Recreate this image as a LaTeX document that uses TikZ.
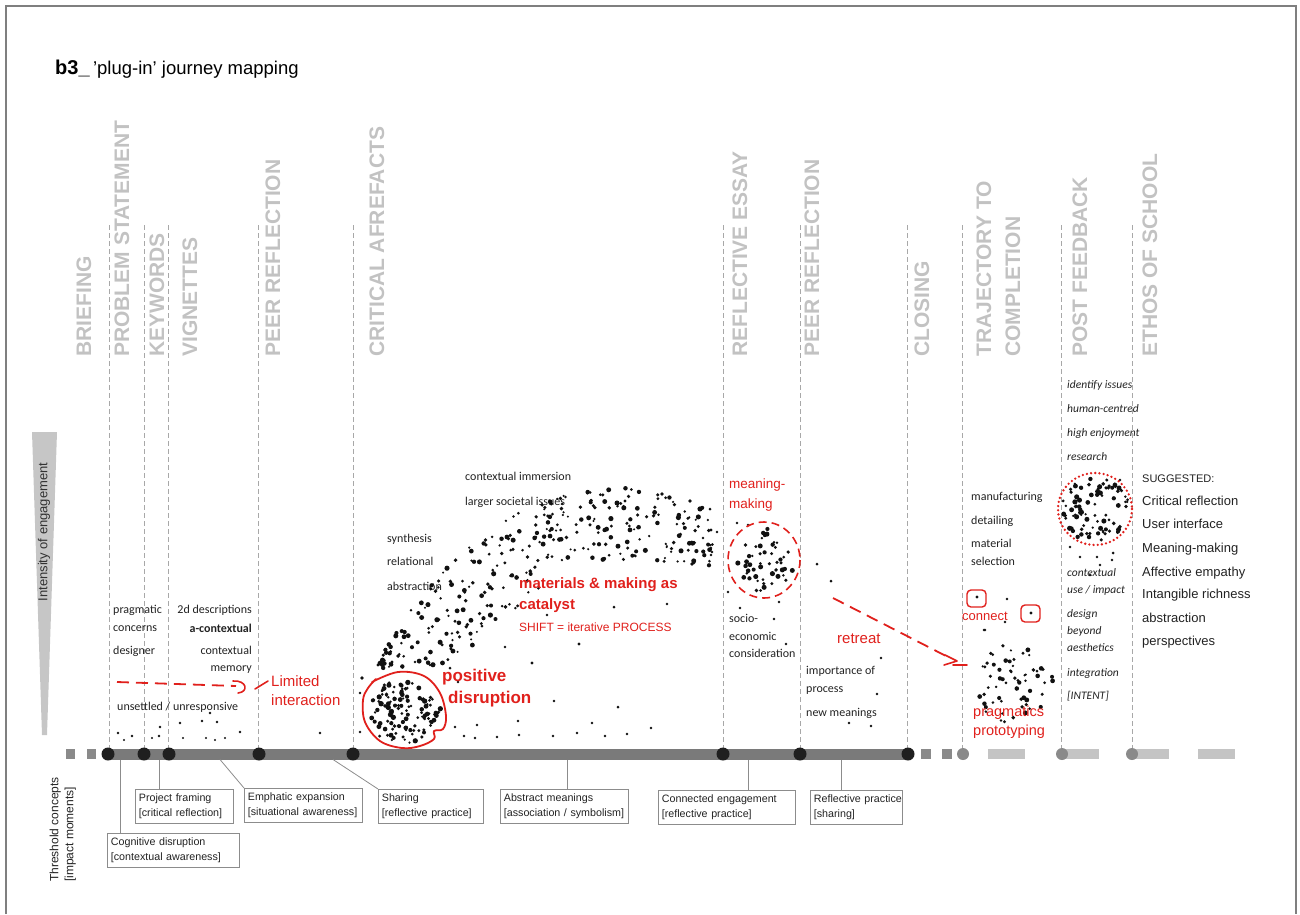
\documentclass[tikz,border=0pt]{standalone}
\usepackage{fontspec}
\setmainfont{Liberation Sans}
\newfontfamily\calib{Carlito}
\definecolor{hdrgray}{HTML}{C2C2C2}
\definecolor{linegray}{HTML}{A8A8A8}
\definecolor{axisgray}{HTML}{7A7A7A}
\definecolor{sqgray}{HTML}{8A8A8A}
\definecolor{lbargray}{HTML}{C4C4C4}
\definecolor{boxgray}{HTML}{8C8C8C}
\definecolor{anno}{HTML}{E0201C}
\definecolor{txt}{HTML}{222222}
\definecolor{wedgegray}{HTML}{C6C6C6}
\definecolor{framegray}{HTML}{7F7F7F}
\definecolor{dotc}{HTML}{111111}
\newcommand\dotcloud[6]{%
  \foreach \k in {1,...,#5}{%
    \pgfmathsetmacro\dAng{360*rnd}%
    \pgfmathsetmacro\dR{sqrt(rnd)}%
    \pgfmathsetmacro\dSz{1.2+#6*rnd}%
    \fill[dotc] ({#1+#3*\dR*cos(\dAng)},{#2+#4*\dR*sin(\dAng)}) circle (\dSz pt);
  }}
\tikzset{
  hdr/.style={rotate=90, anchor=west, inner sep=0pt, text=hdrgray, font=\bfseries\fontsize{21}{21}\selectfont},
  vline/.style={draw=linegray, dash pattern=on 5pt off 3pt, line width=0.8pt},
  lbl/.style={anchor=base west, inner sep=0pt, text=txt, font=\calib\fontsize{12}{12}\selectfont},
  lblr/.style={lbl, anchor=base east},
  ital/.style={lbl, font=\calib\itshape\fontsize{11.5}{11.5}\selectfont},
  sug/.style={anchor=base west, inner sep=0pt, text=txt, font=\fontsize{13}{13}\selectfont},
  redtxt/.style={anchor=base west, inner sep=0pt, text=anno},
  tbox/.style={draw=boxgray, line width=0.8pt, inner xsep=3.5pt, inner ysep=2pt, anchor=north west, align=left, text=txt, font=\fontsize{10.7}{15}\selectfont, minimum height=34pt},
  tconn/.style={draw=boxgray, line width=0.8pt},
  bdot/.style={circle, fill=black!88, inner sep=0pt, minimum size=13pt},
  gdot/.style={circle, fill=sqgray, inner sep=0pt, minimum size=12pt},
  sqr/.style={rectangle, fill=sqgray, inner sep=0pt, minimum size=9.5pt},
  lbar/.style={rectangle, fill=lbargray, inner sep=0pt, minimum width=37pt, minimum height=10pt, anchor=west},
  annoline/.style={draw=anno, line width=1.8pt, line cap=round, line join=round},
  annodash/.style={draw=anno, line width=1.8pt, dash pattern=on 12pt off 7pt},
}
\begin{document}
\begin{tikzpicture}[x=1pt, y=-1pt]
\useasboundingbox (0,0) rectangle (1300,914);
\pgfmathsetseed{11}
% frame
\draw[framegray, line width=1.6pt] (6,914) -- (6,6) -- (1296,6) -- (1296,914);
% title
\node[anchor=base west, inner sep=0pt, font=\bfseries\fontsize{20}{20}\selectfont] (ttl) at (55,74) {b3\_};
\node[anchor=base west, inner sep=0pt, font=\fontsize{18.5}{18.5}\selectfont] (ttl2) at ([xshift=3pt]ttl.base east) {'plug-in' journey mapping};
% headers
\node[hdr] (h1) at (84,357) {BRIEFING};
\node[hdr] (h2) at (122,357) {PROBLEM STATEMENT};
\node[hdr] (h3) at (157,357) {KEYWORDS};
\node[hdr] (h4) at (190,357) {VIGNETTES};
\node[hdr] (h5) at (273,357) {PEER REFLECTION};
\node[hdr] (h6) at (377,357) {CRITICAL AFREFACTS};
\node[hdr] (h7) at (740,357) {REFLECTIVE ESSAY};
\node[hdr] (h8) at (812,357) {PEER REFLECTION};
\node[hdr] (h9) at (922,357) {CLOSING};
\node[hdr] (h10) at (984,357) {TRAJECTORY TO};
\node[hdr] (h11) at (1013,357) {COMPLETION};
\node[hdr] (h12) at (1080,357) {POST FEEDBACK};
\node[hdr] (h13) at (1150,357) {ETHOS OF SCHOOL};
% wedge + intensity label
\fill[wedgegray] (32,432) -- (57,432) -- (47,735) -- (42,735) -- cycle;
\node[rotate=90, inner sep=0pt, text=black!80, font=\fontsize{13}{13}\selectfont] (ie) at (44,532) {Intensity of engagement};
% dashed column lines
\foreach \n/\xx in {1/109,2/144,3/168,4/258,5/353,6/723,7/800,8/907,9/962,10/1061,11/1132}{
  \coordinate (t\n) at (\xx,225);
  \coordinate (b\n) at (\xx,750);
  \draw[vline] (t\n) -- (b\n);
}
% axis
\coordinate (axL) at (108,754);
\coordinate (axR) at (908,754);
\draw[axisgray, line width=11pt] (axL) -- (axR);
\node[sqr] (sq1) at (70.5,754) {};
\node[sqr] (sq2) at (91.5,754) {};
\node[sqr] (sq3) at (926,754) {};
\node[sqr] (sq4) at (947,754) {};
\node[lbar] (lb1) at (988,754) {};
\node[lbar] (lb2) at (1062,754) {};
\node[lbar] (lb3) at (1132,754) {};
\node[lbar] (lb4) at (1198,754) {};
\foreach \n/\xx in {1/108,2/144,3/169,4/259,5/353,6/723,7/800,8/908}{
  \node[bdot] (d\n) at (\xx,754) {};
}
\node[gdot] (g1) at (963,754) {};
\node[gdot] (g2) at (1062,754) {};
\node[gdot] (g3) at (1132,754) {};
% threshold label
\node[rotate=90, anchor=north west, align=left, inner sep=0pt, text=txt, font=\fontsize{12}{15}\selectfont] (thr) at (49.5,882) {Threshold concepts\\\mbox{[impact moments]}};
% boxes
\node[tbox, text width=125pt] (cog) at (107,833) {\mbox{Cognitive disruption}\\\mbox{[contextual awareness]}};
\node[tbox, text width=91pt] (proj) at (135,789) {\mbox{Project framing}\\\mbox{[critical reflection]}};
\node[tbox, text width=111pt] (emph) at (244,788) {\mbox{Emphatic expansion}\\\mbox{[situational awareness]}};
\node[tbox, text width=98pt] (shar) at (378,789) {\mbox{Sharing}\\\mbox{[reflective practice]}};
\node[tbox, text width=121pt] (abst) at (500,789) {\mbox{Abstract meanings}\\\mbox{[association / symbolism]}};
\node[tbox, text width=130pt] (conn) at (658,790) {\mbox{Connected engagement}\\\mbox{[reflective practice]}};
\node[tbox, text width=85pt] (refl) at (810,790) {\mbox{Reflective practice}\\\mbox{[sharing]}};
\coordinate (c1) at (120,759.5);
\coordinate (c2) at (159,759.5);
\coordinate (c3) at (220,759.5);
\coordinate (c4) at (333,759.5);
\coordinate (c5) at (567,759.5);
\coordinate (c6) at (748,759.5);
\coordinate (c7) at (841,759.5);
\draw[tconn] (c1) -- (c1 |- cog.north);
\draw[tconn] (c2) -- (c2 |- proj.north);
\draw[tconn] (c3) -- (emph.north west);
\draw[tconn] (c4) -- (shar.north west);
\draw[tconn] (c5) -- (c5 |- abst.north);
\draw[tconn] (c6) -- (c6 |- conn.north);
\draw[tconn] (c7) -- (c7 |- refl.north);
% black labels
\node[lbl] (p1) at (113,613) {pragmatic};
\node[lbl] (p2) at (113,631) {concerns};
\node[lbl] (p3) at (113,654) {designer};
\node[lblr] (q1) at (252,613) {2d descriptions};
\node[lblr, font=\calib\bfseries\fontsize{12}{12}\selectfont] (q2) at (252,632) {a-contextual};
\node[lblr] (q3) at (252,654) {contextual};
\node[lblr] (q4) at (252,671) {memory};
\node[lbl] (un) at (117,710) {unsettled / unresponsive};
\node[lbl] (m1) at (465,480) {contextual immersion};
\node[lbl] (m2) at (465,505) {larger societal issues};
\node[lbl] (s1) at (387,542) {synthesis};
\node[lbl] (s2) at (387,565) {relational};
\node[lbl] (s3) at (387,590) {abstraction};
\node[lbl] (e1) at (729,622) {socio-};
\node[lbl] (e2) at (729,640) {economic};
\node[lbl] (e3) at (729,657) {consideration};
\node[lbl] (r1) at (806,674) {importance of};
\node[lbl] (r2) at (806,692) {process};
\node[lbl] (r3) at (806,716) {new meanings};
\node[lbl] (f1) at (971,500) {manufacturing};
\node[lbl] (f2) at (971,524) {detailing};
\node[lbl] (f3) at (971,547) {material};
\node[lbl] (f4) at (971,565) {selection};
\node[ital] (i1) at (1067,388) {identify issues};
\node[ital] (i2) at (1067,412) {human-centred};
\node[ital] (i3) at (1067,436) {high enjoyment};
\node[ital] (i4) at (1067,460) {research};
\node[ital] (i5) at (1067,576) {contextual};
\node[ital] (i6) at (1067,593) {use / impact};
\node[ital] (i7) at (1067,617) {design};
\node[ital] (i8) at (1067,634) {beyond};
\node[ital] (i9) at (1067,651) {aesthetics};
\node[ital] (i10) at (1067,676) {integration};
\node[ital] (i11) at (1067,699) {[INTENT]};
\node[sug, font=\fontsize{11}{11}\selectfont] (g0) at (1142,482) {SUGGESTED:};
\node[sug] (g1t) at (1142,505) {Critical reflection};
\node[sug] (g2t) at (1142,528) {User interface};
\node[sug] (g3t) at (1142,552) {Meaning-making};
\node[sug] (g4t) at (1142,576) {Affective empathy};
\node[sug] (g5t) at (1142,598) {Intangible richness};
\node[sug] (g6t) at (1142,622) {abstraction};
\node[sug] (g7t) at (1142,645) {perspectives};
% dots: clouds
\dotcloud{404}{712}{37}{33}{120}{1.5}
\foreach \k in {1,...,330}{%
  \pgfmathsetmacro\bx{378+335*rnd}%
  \pgfmathsetmacro\bu{488+152*pow(max(0.001,(640-\bx)/250),2.5)+0.2*max(0,\bx-640)}%
  \pgfmathsetmacro\bl{max(560+0.1*max(0,\bx-650),min(668,668-0.9*(\bx-450)))}%
  \pgfmathsetmacro\by{\bu+(\bl-\bu)*rnd}%
  \pgfmathsetmacro\bs{1.1+1.5*rnd}%
  \fill[dotc] (\bx,\by) circle (\bs pt);
}
\dotcloud{764}{560}{30}{33}{50}{1.4}
\dotcloud{1095}{509}{34}{33}{90}{1.4}
\dotcloud{1010}{683}{43}{40}{62}{1.3}
\foreach \px/\py/\pr in {118/733/1.3,124/740/1.2,132/736/1.3,152/738/1.2,159/736/1.3,160/727/1.4,180/723/1.3,183/738/1.2,202/721/1.3,210/713/1.4,217/722/1.3,206/738/1.2,215/740/1.2,225/738/1.2,240/732/1.3,320/733/1.3,360/732/1.3,360/693/1.3,
  455/727/1.4,477/725/1.4,464/736/1.3,475/738/1.3,497/737/1.4,518/721/1.4,519/735/1.3,532/663/1.6,554/701/1.3,553/736/1.4,577/733/1.3,592/723/1.3,605/736/1.4,618/707/1.5,627/734/1.4,651/728/1.4,505/647/1.4,579/644/1.6,614/607/1.5,667/604/1.4,547/615/1.4,692/564/1.8,710/509/1.5,711/530/1.6,717/532/1.4,711/548/1.3,711/555/1.3,362/678/1.8,378/665/1.6,392/662/1.6,450/668/1.5,458/682/1.4,430/665/1.4,415/662/1.4,
  703/538/1.3,712/552/1.3,728/592/1.3,740/608/1.4,779/602/1.4,774/619/1.3,786/644/1.4,817/564/1.5,831/581/1.5,881/658/1.4,877/694/1.4,849/723/1.4,871/726/1.4,984/630/1.3,737/523/1.3,748/525/1.3,
  1007/599/1.4,985/630/1.3,1005/622/1.3,977/597/1.7,1031/613/1.7,
  1097/557/1.4,1080/557/1.3,1113/553/1.5,1100/565/1.4,1112/560/1.3,1070/547/1.3,1120/480/1.4,1090/575/1.3}{
  \fill[dotc] (\px,\py) circle (\pr pt);
}
% red annotations
\draw[annodash] (117,682) -- (236,686);
\draw[annoline, line width=1.6pt] (233,681) .. controls (247,680) and (249,692) .. (238,693);
\draw[annoline, line width=1.6pt] (255,689) -- (268,681);
\node[redtxt, font=\fontsize{15}{15}\selectfont] (li1) at (271,686) {Limited};
\node[redtxt, font=\fontsize{15}{15}\selectfont] (li2) at (271,705) {interaction};
\draw[annoline] plot[smooth, tension=0.6] coordinates {(372,682) (398,672) (424,676) (440,693) (446,716) (443,729) (434,731) (434,739) (420,746) (402,748) (380,741) (365,722) (363,700) (368,688) (376,679)};
\node[redtxt, font=\bfseries\fontsize{17}{17}\selectfont] (pd1) at (442,681) {positive};
\node[redtxt, font=\bfseries\fontsize{17}{17}\selectfont] (pd2) at (448,703) {disruption};
\node[redtxt, font=\bfseries\fontsize{15}{15}\selectfont] (mm1) at (519,588) {materials \& making as};
\node[redtxt, font=\bfseries\fontsize{15}{15}\selectfont] (mm2) at (519,609) {catalyst};
\node[redtxt, font=\fontsize{12}{12}\selectfont] (mm3) at (519,631) {SHIFT = iterative PROCESS};
\node[redtxt, font=\fontsize{13.5}{13.5}\selectfont] (mk1) at (729,488) {meaning-};
\node[redtxt, font=\fontsize{13.5}{13.5}\selectfont] (mk2) at (729,508) {making};
\draw[annodash, line width=1.6pt, dash pattern=on 8pt off 5pt] (764,560) ellipse [x radius=36, y radius=38];
\draw[annodash] (833,598) -- (946,656);
\draw[annoline, line width=1.6pt] (945,655) -- (957,661) -- (944,665);
\draw[annoline, line width=1.6pt] (953,665) -- (967,665);
\node[redtxt, font=\fontsize{15}{15}\selectfont] (rt) at (837,643) {retreat};
\draw[anno, line width=2.6pt, line cap=round, dash pattern=on 0pt off 4.2pt] (1095,509) ellipse [x radius=37, y radius=36];
\draw[annoline, line width=1.4pt, rounded corners=4pt] (967,590) rectangle (986,607);
\draw[annoline, line width=1.4pt, rounded corners=4pt] (1021,605) rectangle (1040,622);
\node[redtxt, font=\fontsize{13}{13}\selectfont] (cn) at (962,620) {connect};
\node[redtxt, font=\fontsize{14.5}{14.5}\selectfont] (pp1) at (973,716) {pragmatics};
\node[redtxt, font=\fontsize{14.5}{14.5}\selectfont] (pp2) at (973,735) {prototyping};
\end{tikzpicture}
\end{document}
